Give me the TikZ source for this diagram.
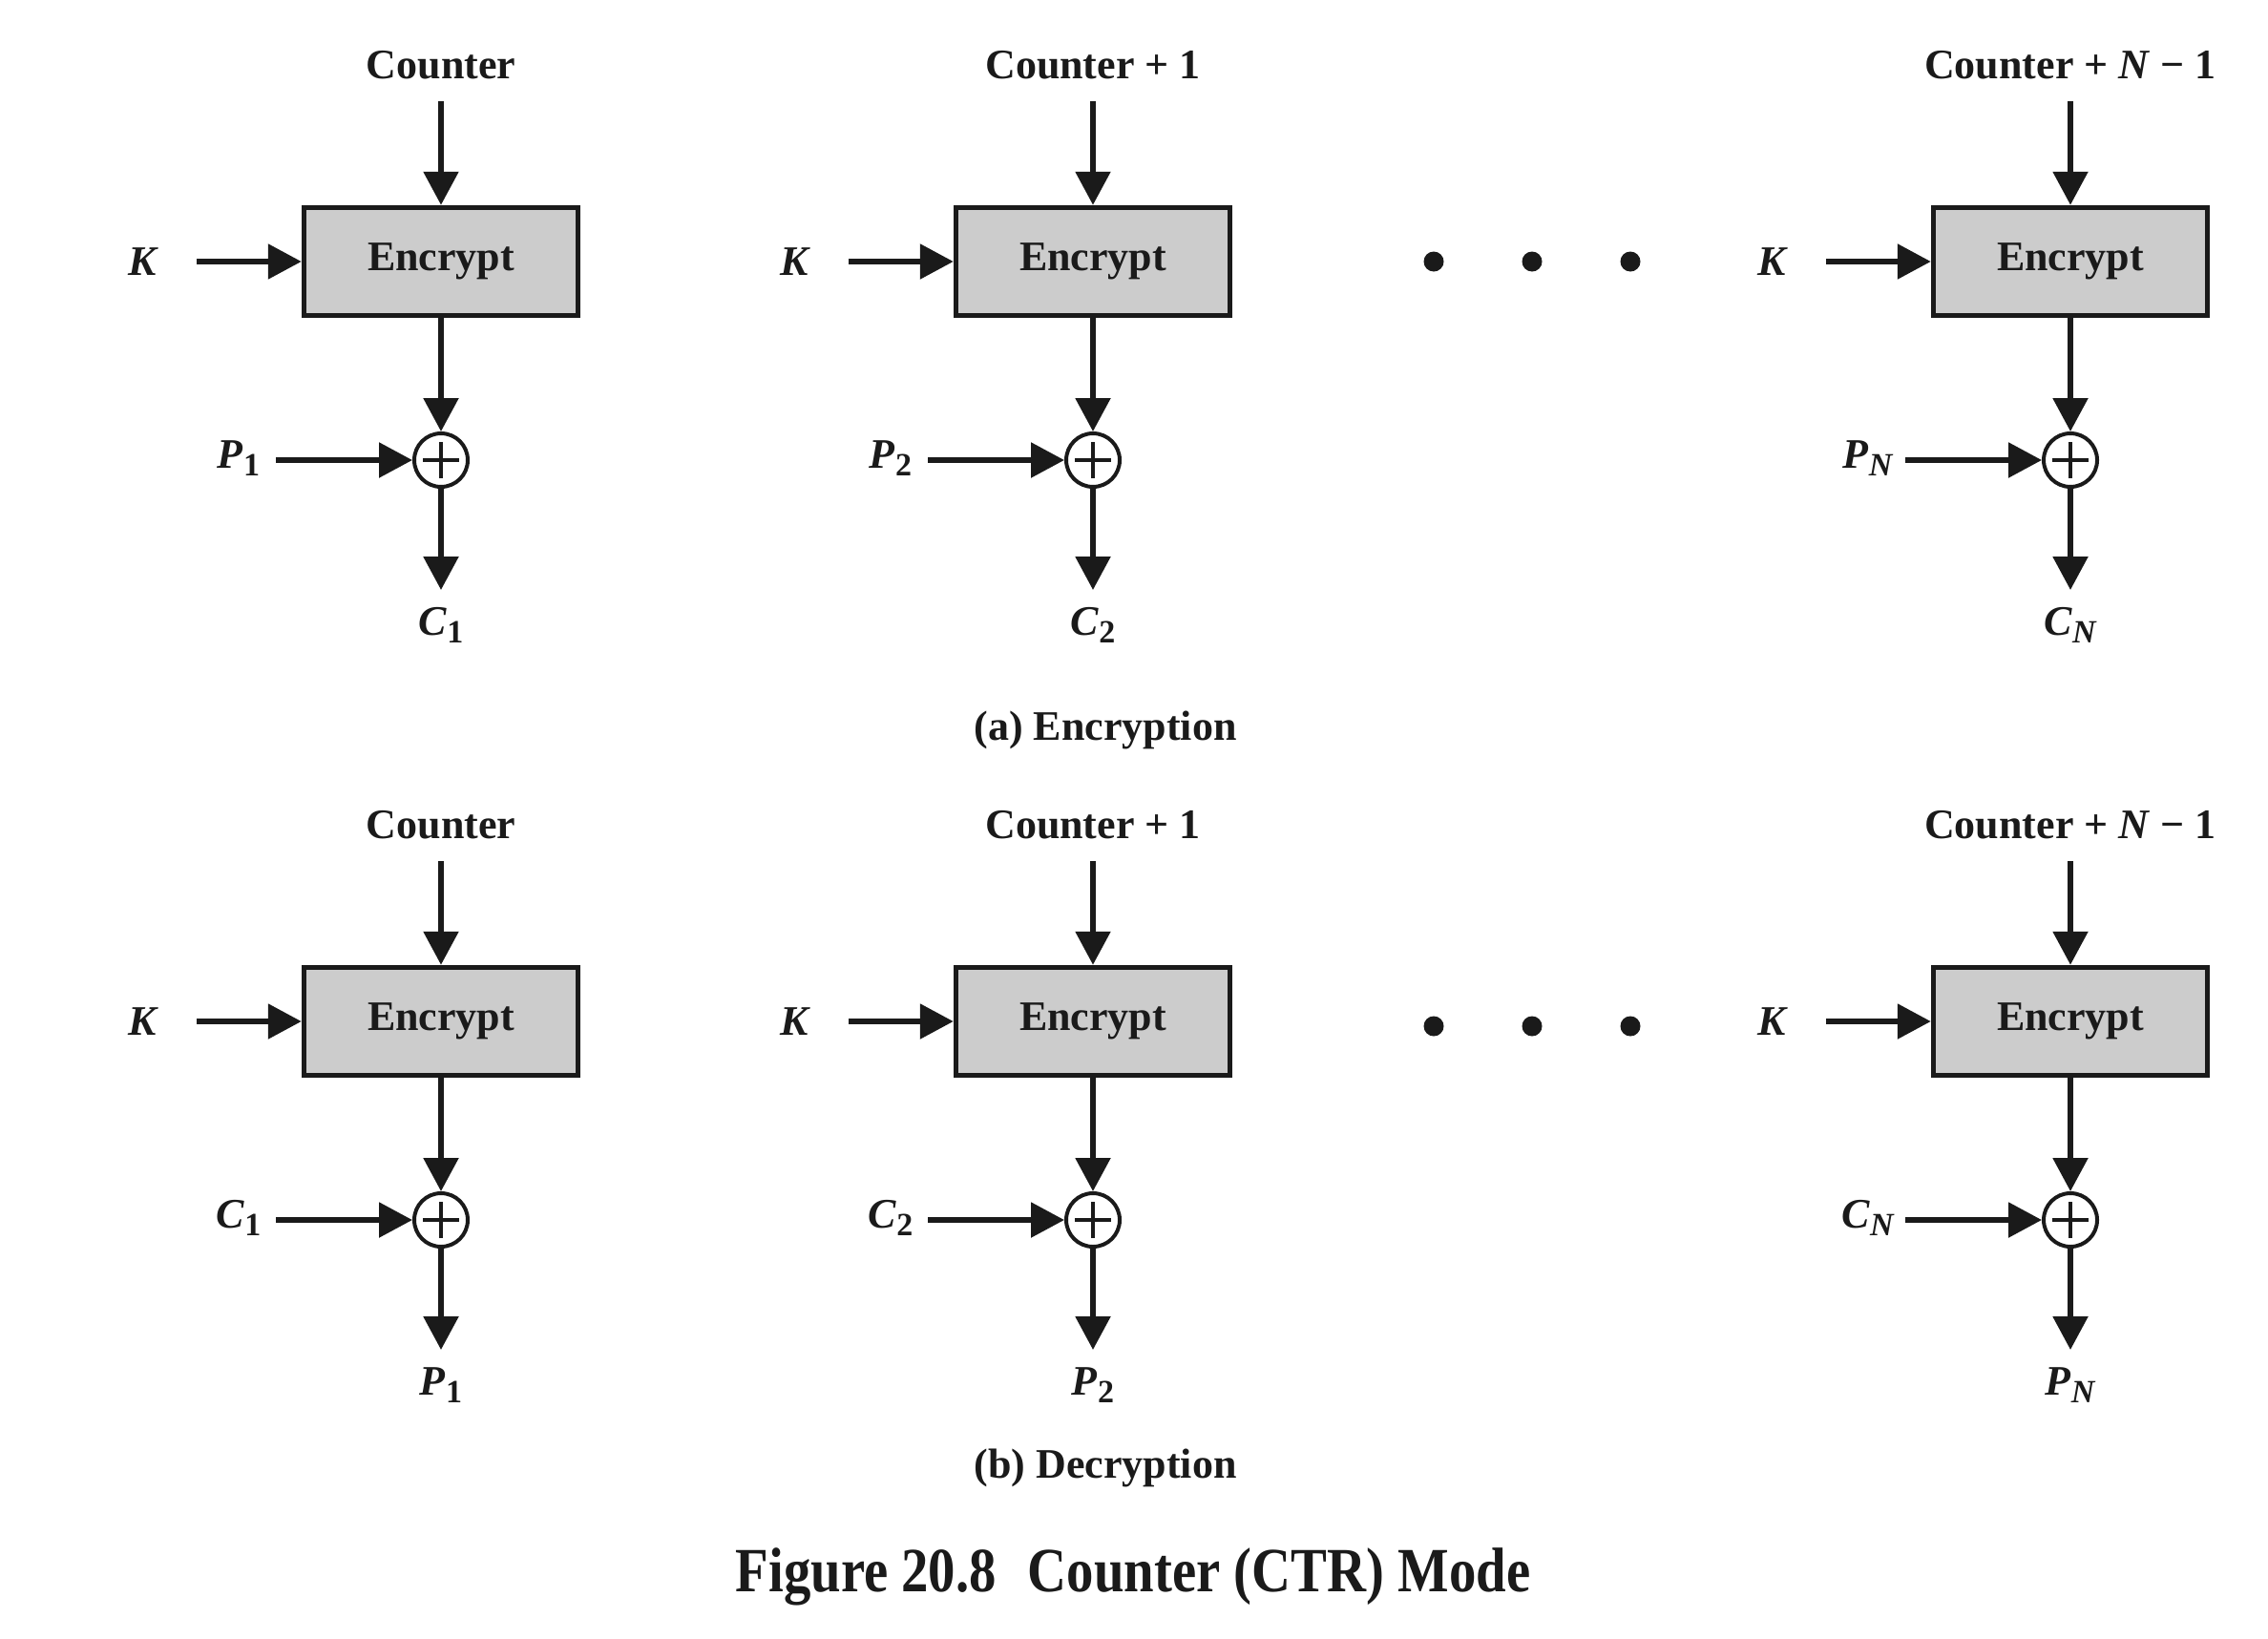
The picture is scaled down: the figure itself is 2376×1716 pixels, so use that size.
\documentclass[tikz,border=0pt]{standalone}
\usepackage{fontspec}
\setmainfont{Liberation Serif}
\newfontfamily\capfont[FakeStretch=0.86]{Liberation Serif}
\usetikzlibrary{arrows.meta}
\definecolor{ink}{HTML}{1A1A1A}
\definecolor{boxgray}{HTML}{CCCCCC}
\newcommand\lab[2]{\textit{#1}\raisebox{-0.4ex}{\fontsize{34}{34}\selectfont #2}}
\newcommand\ctrcol[6]{%
  \node (ctr#1) at (#2,68+#3) {#4};
  \coordinate (cin#1) at (#2,106+#3);
  \node[encbox] (enc#1) at (#2,274+#3) {Encrypt};
  \node (k#1) at (#2-312,274+#3) {\textit{K}};
  \coordinate (kin#1) at (#2-256,274+#3);
  \node[xorc] (x#1) at (#2,482+#3) {};
  \node (in#1) at (#2-212,480+#3) {#5};
  \coordinate (pin#1) at (#2-173,482+#3);
  \coordinate (out#1) at (#2,618+#3);
  \node (o#1) at (#2,655+#3) {#6};
  \draw[arr] (cin#1) -- (enc#1);
  \draw[arr] (kin#1) -- (enc#1);
  \draw[arr] (enc#1) -- (x#1);
  \draw[arr] (pin#1) -- (x#1);
  \draw[arr] (x#1) -- (out#1);
}
\begin{document}
\begin{tikzpicture}[x=1pt,y=-1pt,
  every node/.style={font=\fontsize{44}{50}\selectfont\bfseries, text=ink, inner sep=0pt},
  arr/.style={draw=ink, line width=5.5pt, -{Triangle[length=35pt,width=36pt]}},
  encbox/.style={draw=ink, fill=boxgray, line width=5.5pt, minimum width=287pt, minimum height=113pt},
  xorc/.style={circle, draw=ink, line width=4pt, minimum size=56pt,
    path picture={\draw[ink, line width=4pt] (path picture bounding box.center) ++(-19pt,0) -- ++(38pt,0)
      (path picture bounding box.center) ++(0,-19pt) -- ++(0,38pt);}},
  dot/.style={circle, fill=ink, minimum size=21pt}
]
\useasboundingbox (0,0) rectangle (2376,1716);
% (a) Encryption
\ctrcol{a1}{462}{0}{Counter}{\lab{P}{1}}{\lab{C}{1}}
\ctrcol{a2}{1145}{0}{Counter + 1}{\lab{P}{2}}{\lab{C}{2}}
\ctrcol{a3}{2169}{0}{Counter + \textit{N} − 1}{\lab{P}{\textit{N}}}{\lab{C}{\textit{N}}}
\node[dot] (da1) at (1502,274) {};
\node[dot] (da2) at (1605,274) {};
\node[dot] (da3) at (1708,274) {};
\node (capa) at (1158,765) {(a) Encryption};
% (b) Decryption
\ctrcol{b1}{462}{796}{Counter}{\lab{C}{1}}{\lab{P}{1}}
\ctrcol{b2}{1145}{796}{Counter + 1}{\lab{C}{2}}{\lab{P}{2}}
\ctrcol{b3}{2169}{796}{Counter + \textit{N} − 1}{\lab{C}{\textit{N}}}{\lab{P}{\textit{N}}}
\node[dot] (db1) at (1502,1075) {};
\node[dot] (db2) at (1605,1075) {};
\node[dot] (db3) at (1708,1075) {};
\node (capb) at (1158,1538) {(b) Decryption};
\node[font=\capfont\fontsize{66}{70}\selectfont\bfseries] (title) at (1187,1652) {Figure 20.8\hspace{0.5em}Counter (CTR) Mode};
\end{tikzpicture}
\end{document}
